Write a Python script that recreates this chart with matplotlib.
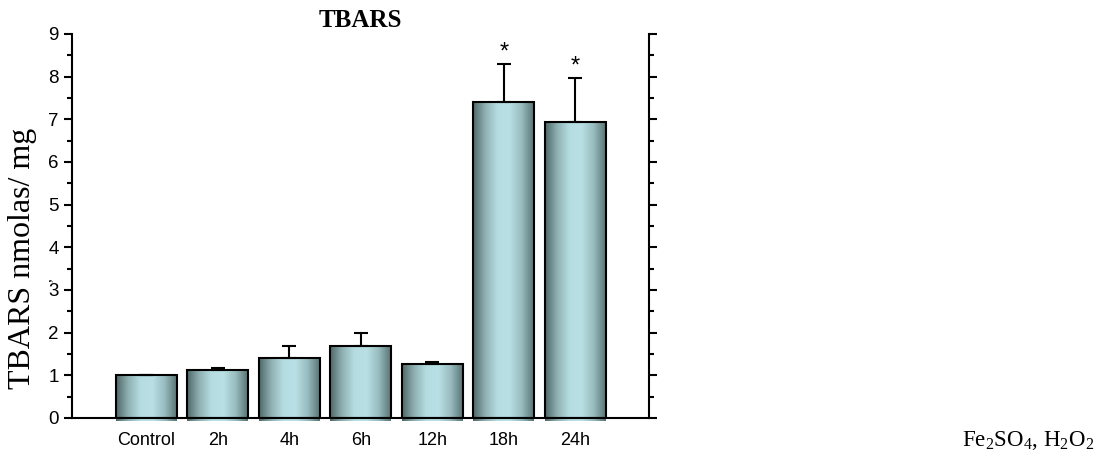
import numpy as np
import matplotlib
matplotlib.use('Agg')
import matplotlib.pyplot as plt
from matplotlib.colors import LinearSegmentedColormap
from matplotlib.patches import Rectangle

plt.rcParams['font.family'] = 'Liberation Sans'
plt.rcParams['mathtext.fontset'] = 'custom'
plt.rcParams['mathtext.rm'] = 'Liberation Serif'
plt.rcParams['mathtext.default'] = 'rm'

categories = ['Control', '2h', '4h', '6h', '12h', '18h', '24h']
means = [1.0, 1.13, 1.41, 1.69, 1.27, 7.41, 6.94]
errors = [0.01, 0.05, 0.28, 0.31, 0.04, 0.89, 1.03]
significant = [False, False, False, False, False, True, True]

fig = plt.figure(figsize=(11.05, 4.53), dpi=100)
ax = fig.add_axes([0.0652, 0.0773, 0.522, 0.848])

x = np.arange(len(categories))
width = 0.85

# cylinder-like horizontal shading for each bar
cmap = LinearSegmentedColormap.from_list(
    'cyl', ['#4e6767', '#8fb0b2', '#b5dde1', '#b9e0e4', '#98bcbf', '#5a7373'])
grad = np.linspace(0, 1, 256).reshape(1, -1)

for xi, h in zip(x, means):
    ax.imshow(grad, cmap=cmap, aspect='auto', origin='lower',
              extent=[xi - width / 2, xi + width / 2, -0.06, h], zorder=2,
              clip_on=False, interpolation='bilinear')
    ax.add_patch(Rectangle((xi - width / 2, 0), width, h, fill=False,
                           edgecolor='black', linewidth=1.5, zorder=3))

ax.errorbar(x, means, yerr=[np.zeros(len(errors)), errors], fmt='none',
            ecolor='black', elinewidth=1.5, capsize=5, capthick=1.5, zorder=4)

for xi, h, e, s in zip(x, means, errors, significant):
    if s:
        ax.text(xi, h + e + 0.0, '*', ha='center', va='bottom', fontsize=17)

ax.set_xlim(-1.04, 7.03)
ax.set_ylim(0, 9)
ax.set_yticks(range(10))
ax.set_yticks(np.arange(0.5, 9, 1), minor=True)
ax.set_xticks(x)
ax.set_xticklabels(categories, fontsize=13)
ax.tick_params(axis='y', which='both', direction='out', left=True, right=True,
               labelleft=True, labelright=False, labelsize=13.5, width=1.5)
ax.tick_params(axis='y', which='major', length=6)
ax.tick_params(axis='y', which='minor', length=3.5)
ax.tick_params(axis='x', length=2, width=1.2, pad=8)

for side in ['left', 'right', 'bottom']:
    ax.spines[side].set_linewidth(1.5)
ax.spines['top'].set_visible(False)

ax.set_title('TBARS', fontfamily='Liberation Serif', fontweight='bold',
             fontsize=18, pad=5)

fig.text(23 / 1105, 1 - 258 / 453, 'TBARS nmolas/ mg', rotation=90,
         ha='center', va='center', fontfamily='Liberation Serif', fontsize=23)
fig.text(47 / 1105, 1 - 280 / 453, ',', rotation=90, ha='center', va='center',
         fontfamily='Liberation Serif', fontsize=11)

fig.text(1028 / 1105, 1 - 441 / 453, 'Fe$_2$SO$_4$, H$_2$O$_2$',
         ha='center', va='center', fontfamily='Liberation Serif', fontsize=16.5)

fig.savefig('out.png', dpi=100, facecolor='white')
